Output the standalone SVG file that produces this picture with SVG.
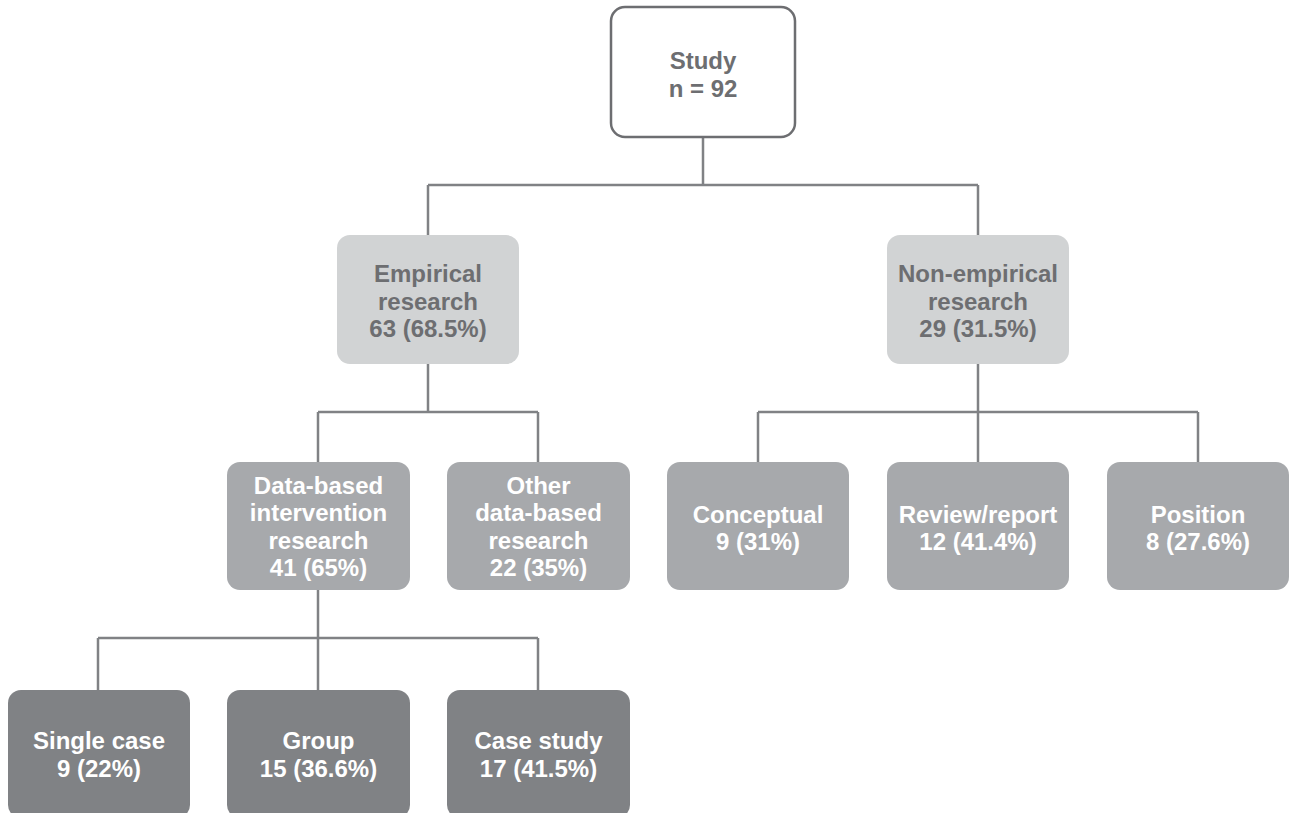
<svg xmlns="http://www.w3.org/2000/svg" width="1290" height="813" viewBox="0 0 1290 813">
<style>
.lbl{font-family:"Liberation Sans",Arial,Helvetica,sans-serif;font-weight:bold;font-size:24px;text-anchor:middle}
.dark{fill:#6d6e71}
.light{fill:#ffffff}
.root{fill:#ffffff;stroke:#6d6e71;stroke-width:2.5}
.l2{fill:#d1d3d4}
.l3{fill:#a7a9ac}
.l4{fill:#808285}
.conn{stroke:#808285;stroke-width:2.5;fill:none}
</style>
<rect width="1290" height="813" fill="#ffffff"/>
<g id="connectors" class="conn">
<path d="M703 137V185M428 185H978M428 185V235M978 185V235"/>
<path d="M428 364V412M318 412H538M318 412V462M538 412V462"/>
<path d="M978 364V412M758 412H1198M758 412V462M978 412V462M1198 412V462"/>
<path d="M318 590V638M98 638H538M98 638V690M318 638V690M538 638V690"/>
</g>
<g id="study"><rect class="root" x="611" y="7" width="184" height="130" rx="14"/>
<text class="lbl dark" x="703" y="69">Study</text><text class="lbl dark" x="703" y="96.5">n = 92</text></g>
<g id="empirical"><rect class="l2" x="337" y="235" width="182" height="129" rx="13"/>
<text class="lbl dark" x="428" y="282">Empirical</text><text class="lbl dark" x="428" y="309.5">research</text><text class="lbl dark" x="428" y="337">63 (68.5%)</text></g>
<g id="nonempirical"><rect class="l2" x="887" y="235" width="182" height="129" rx="13"/>
<text class="lbl dark" x="978" y="282">Non-empirical</text><text class="lbl dark" x="978" y="309.5">research</text><text class="lbl dark" x="978" y="337">29 (31.5%)</text></g>
<g id="databased"><rect class="l3" x="227" y="462" width="183" height="128" rx="13"/>
<text class="lbl light" x="318.5" y="493.5">Data-based</text><text class="lbl light" x="318.5" y="521">intervention</text><text class="lbl light" x="318.5" y="548.5">research</text><text class="lbl light" x="318.5" y="576">41 (65%)</text></g>
<g id="otherdata"><rect class="l3" x="447" y="462" width="183" height="128" rx="13"/>
<text class="lbl light" x="538.5" y="493.5">Other</text><text class="lbl light" x="538.5" y="521">data-based</text><text class="lbl light" x="538.5" y="548.5">research</text><text class="lbl light" x="538.5" y="576">22 (35%)</text></g>
<g id="conceptual"><rect class="l3" x="667" y="462" width="182" height="128" rx="13"/>
<text class="lbl light" x="758" y="523">Conceptual</text><text class="lbl light" x="758" y="550">9 (31%)</text></g>
<g id="review"><rect class="l3" x="887" y="462" width="182" height="128" rx="13"/>
<text class="lbl light" x="978" y="523">Review/report</text><text class="lbl light" x="978" y="550">12 (41.4%)</text></g>
<g id="position"><rect class="l3" x="1107" y="462" width="182" height="128" rx="13"/>
<text class="lbl light" x="1198" y="523">Position</text><text class="lbl light" x="1198" y="550">8 (27.6%)</text></g>
<g id="singlecase"><rect class="l4" x="8" y="690" width="182" height="128" rx="13"/>
<text class="lbl light" x="99" y="749">Single case</text><text class="lbl light" x="99" y="777">9 (22%)</text></g>
<g id="group"><rect class="l4" x="227" y="690" width="183" height="128" rx="13"/>
<text class="lbl light" x="318.5" y="749">Group</text><text class="lbl light" x="318.5" y="777">15 (36.6%)</text></g>
<g id="casestudy"><rect class="l4" x="447" y="690" width="183" height="128" rx="13"/>
<text class="lbl light" x="538.5" y="749">Case study</text><text class="lbl light" x="538.5" y="777">17 (41.5%)</text></g>
</svg>
